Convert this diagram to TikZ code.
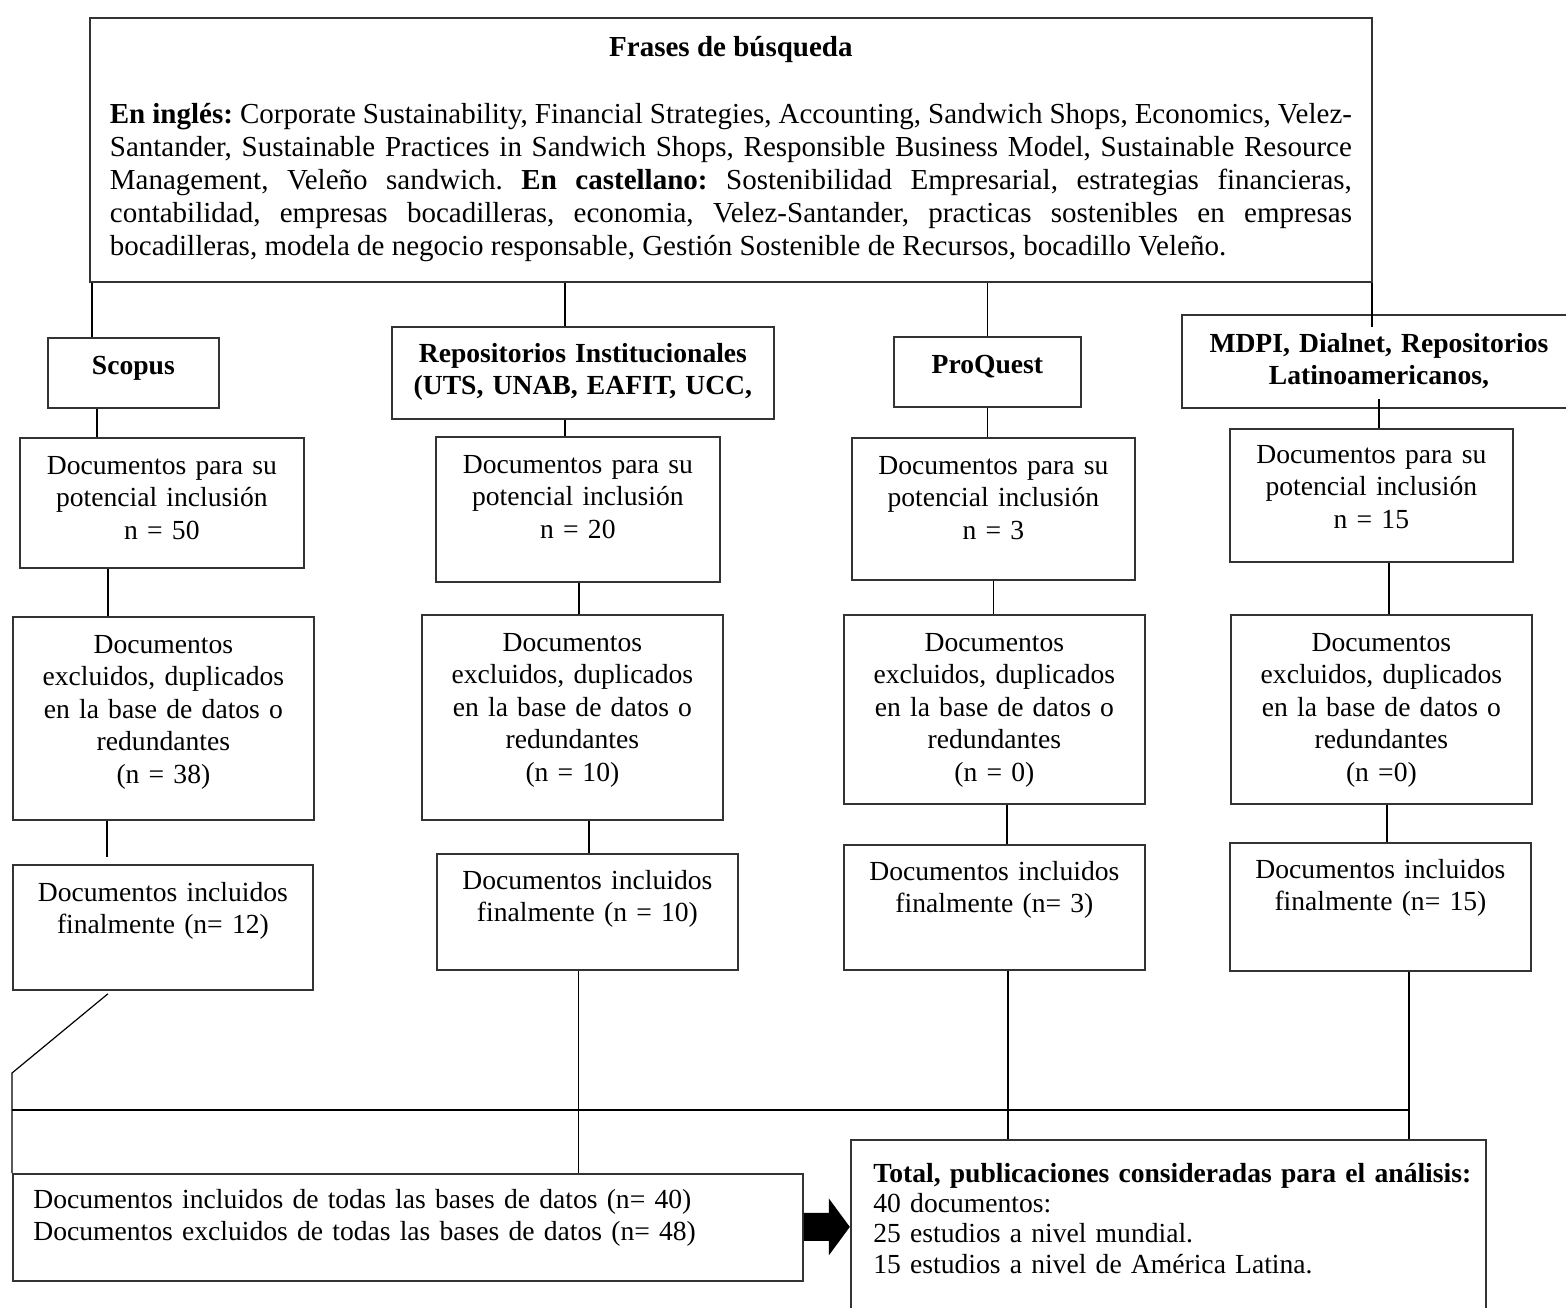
\documentclass[tikz,border=0pt]{standalone}
\usepackage{fontspec}
\setmainfont{Liberation Serif}
\definecolor{edge}{rgb}{0.2,0.2,0.2}
\frenchspacing

\begin{document}
\begin{tikzpicture}[x=0.5pt,y=-0.5pt,
    box/.style={draw=edge,line width=0.9pt,inner sep=0pt,anchor=north west},
    txt/.style={inner sep=0pt,anchor=base,align=center,font=\fontsize{13.8pt}{16.25pt}\selectfont},
    link/.style={line width=0.6pt}]
  \useasboundingbox (0,0) rectangle (1566,1307);
  \clip (0,0) rectangle (1566,1307);

  % search phrases
  \node[box,minimum width=641pt,minimum height=132pt] (frases) at (89,17) {};
  \node[txt,align=justify,text width=621pt,font=\fontsize{14.5pt}{16.5pt}\selectfont] (frases-t) at ([yshift=-19.5pt]frases.north)
    {{\centering\textbf{Frases de búsqueda}\par}\vspace{17pt}%
     \textbf{En inglés:} Corporate Sustainability, Financial Strategies, Accounting, Sandwich Shops, Economics, Velez-\linebreak
     Santander, Sustainable Practices in Sandwich Shops, Responsible Business Model, Sustainable Resource\linebreak
     Management, Veleño sandwich. \textbf{En castellano:} Sostenibilidad Empresarial, estrategias financieras,\linebreak
     contabilidad, empresas bocadilleras, economia, Velez-Santander, practicas sostenibles en empresas\linebreak
     bocadilleras, modela de negocio responsable, Gestión Sostenible de Recursos, bocadillo Veleño.};

  % data bases
  \node[box,minimum width=85.5pt,minimum height=35pt] (scopus) at (47,337) {};
  \node[box,minimum width=191pt,minimum height=46pt] (repos) at (391,326) {};
  \node[box,minimum width=93.5pt,minimum height=35pt] (proquest) at (893,336) {};
  \node[box,minimum width=197pt,minimum height=46.5pt] (mdpi) at (1181,314) {};
  \node[txt,text width=85.5pt] (scopus-t) at ([yshift=-18.5pt]scopus.north) {\textbf{Scopus}};
  \node[txt,text width=191pt] (repos-t) at ([yshift=-18pt]repos.north) {\textbf{Repositorios Institucionales}\\\textbf{(UTS, UNAB, EAFIT, UCC,}};
  \node[txt,text width=93.5pt] (proquest-t) at ([yshift=-18.5pt]proquest.north) {\textbf{ProQuest}};
  \node[txt,text width=197pt] (mdpi-t) at ([yshift=-19pt]mdpi.north) {\textbf{MDPI, Dialnet, Repositorios}\\\textbf{Latinoamericanos,}};

  % potential inclusion
  \node[box,minimum width=142pt,minimum height=65pt] (sdoc) at (19,437) {};
  \node[box,minimum width=142pt,minimum height=72.5pt] (rdoc) at (435,436) {};
  \node[box,minimum width=141.5pt,minimum height=71pt] (pdoc) at (851,437) {};
  \node[box,minimum width=141.5pt,minimum height=66.5pt] (mdoc) at (1229,428) {};
  \node[txt,text width=142pt] (sdoc-t) at ([yshift=-18.5pt]sdoc.north) {Documentos para su\\potencial inclusión\\n = 50};
  \node[txt,text width=142pt] (rdoc-t) at ([yshift=-18.5pt]rdoc.north) {Documentos para su\\potencial inclusión\\n = 20};
  \node[txt,text width=141.5pt] (pdoc-t) at ([yshift=-18.5pt]pdoc.north) {Documentos para su\\potencial inclusión\\n = 3};
  \node[txt,text width=141.5pt] (mdoc-t) at ([yshift=-17.5pt]mdoc.north) {Documentos para su\\potencial inclusión\\n = 15};

  % excluded
  \node[box,minimum width=150.5pt,minimum height=101.5pt] (sexc) at (12,616) {};
  \node[box,minimum width=150.5pt,minimum height=102.5pt] (rexc) at (421,614) {};
  \node[box,minimum width=150.5pt,minimum height=94.5pt] (pexc) at (843,614) {};
  \node[box,minimum width=150.5pt,minimum height=94.5pt] (mexc) at (1230,614) {};
  \node[txt,text width=150.5pt] (sexc-t) at ([yshift=-18.5pt]sexc.north) {Documentos\\excluidos, duplicados\\en la base de datos o\\redundantes\\(n = 38)};
  \node[txt,text width=150.5pt] (rexc-t) at ([yshift=-18.5pt]rexc.north) {Documentos\\excluidos, duplicados\\en la base de datos o\\redundantes\\(n = 10)};
  \node[txt,text width=150.5pt] (pexc-t) at ([yshift=-18.5pt]pexc.north) {Documentos\\excluidos, duplicados\\en la base de datos o\\redundantes\\(n = 0)};
  \node[txt,text width=150.5pt] (mexc-t) at ([yshift=-18.5pt]mexc.north) {Documentos\\excluidos, duplicados\\en la base de datos o\\redundantes\\(n =0)};

  % finally included
  \node[box,minimum width=150pt,minimum height=62.5pt] (sinc) at (12,864) {};
  \node[box,minimum width=150.5pt,minimum height=58pt] (rinc) at (436,853) {};
  \node[box,minimum width=150.5pt,minimum height=62.5pt] (pinc) at (843,844) {};
  \node[box,minimum width=150.5pt,minimum height=64pt] (minc) at (1229,842) {};
  \node[txt,text width=150pt] (sinc-t) at ([yshift=-18.5pt]sinc.north) {Documentos incluidos\\finalmente (n= 12)};
  \node[txt,text width=150.5pt] (rinc-t) at ([yshift=-18pt]rinc.north) {Documentos incluidos\\finalmente (n = 10)};
  \node[txt,text width=150.5pt] (pinc-t) at ([yshift=-18pt]pinc.north) {Documentos incluidos\\finalmente (n= 3)};
  \node[txt,text width=150.5pt] (minc-t) at ([yshift=-18pt]minc.north) {Documentos incluidos\\finalmente (n= 15)};

  % totals
  \node[box,minimum width=395pt,minimum height=53.5pt] (incall) at (12,1173) {};
  \node[box,minimum width=317.5pt,minimum height=100pt] (total) at (850,1139) {};
  \node[txt,anchor=base west,align=left,text width=380pt] (incall-t) at ([xshift=10.5pt,yshift=-17.5pt]incall.north west)
    {Documentos incluidos de todas las bases de datos (n= 40)\\Documentos excluidos de todas las bases de datos (n= 48)};
  \node[txt,anchor=base west,align=left,text width=310pt,font=\fontsize{13.8pt}{15.2pt}\selectfont] (total-t) at ([xshift=11.5pt,yshift=-21.5pt]total.north west)
    {\textbf{Total, publicaciones consideradas para el análisis:}\\40 documentos:\\25 estudios a nivel mundial.\\15 estudios a nivel de América Latina.};

  % connectors
  \draw[link] ([xshift=-20.75pt]scopus.north) -- ([xshift=-20.75pt]scopus.north |- frases.south);
  \draw[link] ([xshift=-9pt]repos.north) -- ([xshift=-9pt]repos.north |- frases.south);
  \draw[link] (proquest.north) -- (proquest.north |- frases.south);
  \draw[link] ([xshift=-3.5pt,yshift=-6.5pt]mdpi.north) -- ([xshift=-3.5pt]mdpi.north |- frases.south);

  \draw[link] ([xshift=-18.25pt]scopus.south) -- ([xshift=-18.25pt]scopus.south |- sdoc.north);
  \draw[link] ([xshift=-9pt]repos.south) -- ([xshift=-9pt]repos.south |- rdoc.north);
  \draw[link] (proquest.south) -- (proquest.south |- pdoc.north);
  \draw[link] ([yshift=5pt]mdpi.south) -- (mdpi.south |- mdoc.north);

  \draw[link] ([xshift=-27pt]sdoc.south) -- ([xshift=-27pt]sdoc.south |- sexc.north);
  \draw[link] ([xshift=0.5pt]rdoc.south) -- ([xshift=0.5pt]rdoc.south |- rexc.north);
  \draw[link] (pdoc.south) -- (pdoc.south |- pexc.north);
  \draw[link] ([xshift=8.75pt]mdoc.south) -- ([xshift=8.75pt]mdoc.south |- mexc.north);

  \draw[link] ([xshift=-28.25pt]sexc.south) -- ([xshift=-28.25pt,yshift=3.5pt]sexc.south |- sinc.north);
  \draw[link] ([xshift=8.25pt]rexc.south) -- ([xshift=8.25pt]rexc.south |- rinc.north);
  \draw[link] ([xshift=6.25pt]pexc.south) -- ([xshift=6.25pt]pexc.south |- pinc.north);
  \draw[link] ([xshift=2.75pt]mexc.south) -- ([xshift=2.75pt]mexc.south |- minc.north);

  \coordinate (kink) at ([yshift=50pt]incall.north west);
  \coordinate (hl) at ([yshift=31.5pt]incall.north west);
  \coordinate (mdrop) at ([xshift=14.25pt]minc.south);
  \draw[link] ([xshift=-27.5pt,yshift=-1.5pt]sinc.south) -- (kink) -- (incall.north west);
  \draw[link] (hl) -- (hl -| mdrop);
  \draw[link] ([xshift=-4.5pt]rinc.south) -- ([xshift=-4.5pt]rinc.south |- incall.north);
  \draw[link] ([xshift=6.75pt]pinc.south) -- ([xshift=6.75pt]pinc.south |- total.north);
  \draw[link] (mdrop) -- (mdrop |- total.north);

  % block arrow
  \fill ([yshift=7.25pt]incall.east) -- ++(25,0) -- ++(0,-14.5) -- ++(21,28.5) -- ++(-21,28.5) -- ++(0,-14.5) -- ++(-25,0) -- cycle;
\end{tikzpicture}
\end{document}
